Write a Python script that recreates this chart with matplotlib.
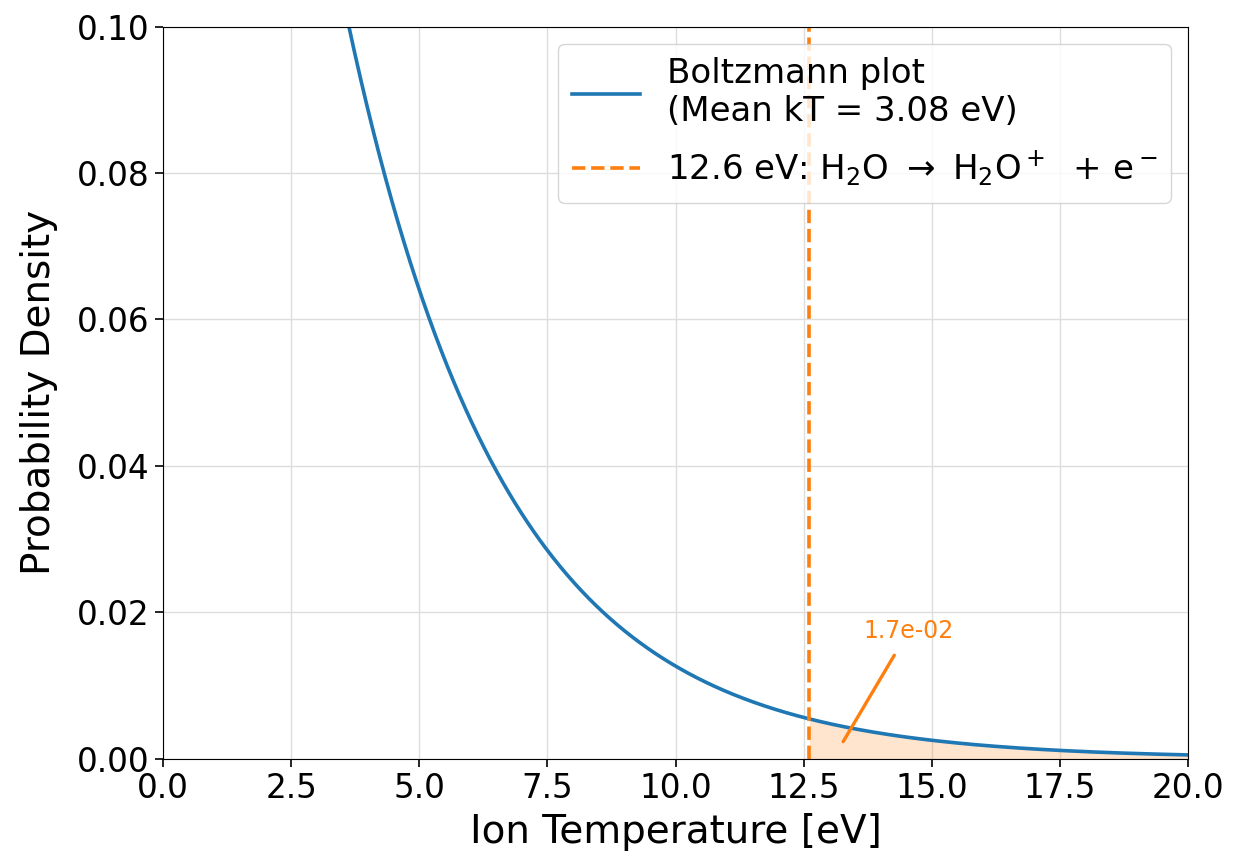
import matplotlib.pyplot as plt
import numpy as np

# Boltzmann energy distribution for ions, with the water ionisation threshold
mean_kT = 3.08          # eV
ionisation_energy = 12.6  # eV, H2O -> H2O+ + e-
x_range = (0.0, 20.0)
y_range = (0.0, 0.10)
x_ticks = [0.0, 2.5, 5.0, 7.5, 10.0, 12.5, 15.0, 17.5, 20.0]
y_ticks = [0.00, 0.02, 0.04, 0.06, 0.08, 0.10]

energy = np.linspace(x_range[0], x_range[1], 1000)
density = np.exp(-energy / mean_kT) / mean_kT

# fraction of ions above the threshold
tail_fraction = np.exp(-ionisation_energy / mean_kT)

plt.rcParams["font.size"] = 23.5
fig, ax = plt.subplots(figsize=(12.35, 8.6), dpi=100)
fig.subplots_adjust(left=0.132, right=0.962, top=0.969, bottom=0.118)

ax.plot(energy, density, color="#1f77b4", linewidth=2.6,
        label=f"Boltzmann plot\n(Mean kT = {mean_kT:.2f} eV)")
ax.axvline(ionisation_energy, color="#ff7f0e", linestyle="--", linewidth=2.6,
           label=f"{ionisation_energy} eV: H$_2$O $\\rightarrow$ "
                 "H$_2$O$^+$  + e$^-$")

tail = energy >= ionisation_energy
ax.fill_between(energy[tail], density[tail], color="#ff7f0e", alpha=0.2, linewidth=0)

ax.annotate(f"{tail_fraction:.1e}", xy=(13.27, 0.0023), xytext=(14.55, 0.0158),
            color="#ff7f0e", fontsize=17, ha="center", va="bottom",
            arrowprops=dict(arrowstyle="-", color="#ff7f0e", linewidth=2.4,
                            shrinkA=8, shrinkB=0))

ax.set_xlim(*x_range)
ax.set_ylim(*y_range)
ax.set_xticks(x_ticks)
ax.set_yticks(y_ticks)
ax.set_xticklabels([f"{t:.1f}" for t in x_ticks])
ax.set_yticklabels([f"{t:.2f}" for t in y_ticks])
ax.tick_params(length=6, width=1.2)
ax.grid(True, color="#dddddd", linewidth=1)
ax.set_axisbelow(True)

ax.set_xlabel("Ion Temperature [eV]", fontsize=28, labelpad=6)
ax.set_ylabel("Probability Density", fontsize=28, labelpad=14)
ax.legend(loc="upper right", fontsize=24.5, handlelength=2.0, borderpad=0.4,
          labelspacing=0.6, borderaxespad=0.5)

fig.savefig("out.png", dpi=100)
